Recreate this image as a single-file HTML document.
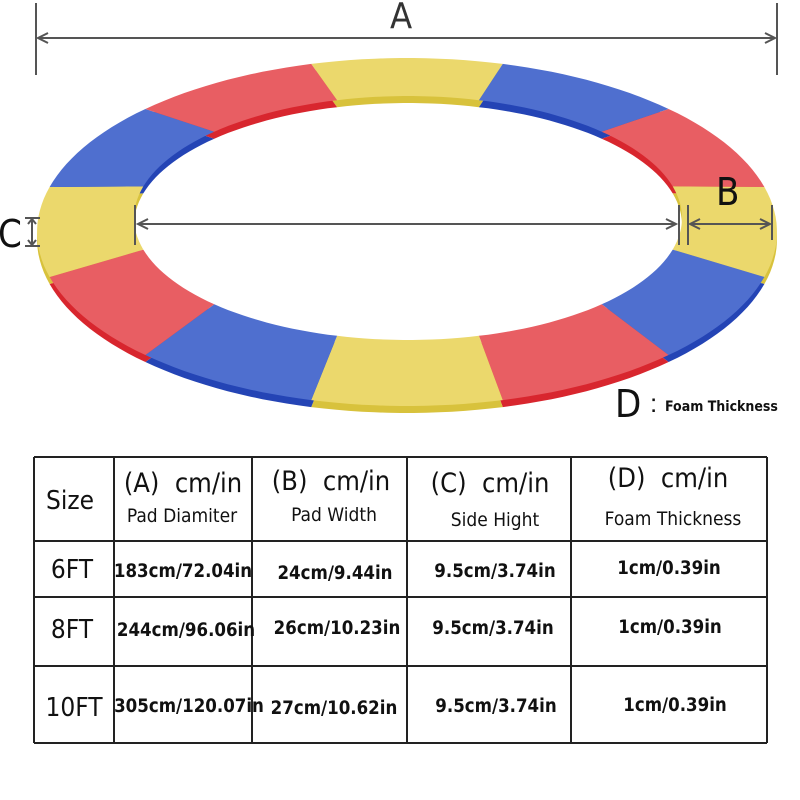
<!DOCTYPE html>
<html><head><meta charset="utf-8"><style>
body{margin:0;width:800px;height:800px;background:#fff;overflow:hidden;position:relative;font-family:"Liberation Sans","DejaVu Sans",sans-serif}
.t{position:absolute;white-space:nowrap;color:#111}
.c{position:absolute;text-align:center;transform:translateX(-50%);white-space:nowrap;color:#111}
.h{font-size:27px;font-family:"DejaVu Sans Condensed","DejaVu Sans",sans-serif;font-weight:300}
.s{font-size:19px;font-family:"DejaVu Sans Condensed","DejaVu Sans",sans-serif}
.d{font-size:18.5px;font-weight:bold;font-family:"DejaVu Sans Condensed","DejaVu Sans",sans-serif}
.z{font-size:26px;font-family:"DejaVu Sans Condensed","DejaVu Sans",sans-serif;font-weight:300}
</style></head><body>
<svg id="sv" width="800" height="800" style="position:absolute;left:0;top:0">
<g id="ring"></g>
<g stroke="#555" stroke-width="2" fill="none">
<line x1="36" y1="3" x2="36" y2="75"/><line x1="777" y1="3" x2="777" y2="75"/>
<line x1="40" y1="38" x2="773" y2="38"/>
<path d="M48,33 L38,38 L48,43 M765,33 L775,38 L765,43"/>
<line x1="135" y1="205" x2="135" y2="245"/><line x1="679" y1="205" x2="679" y2="245"/><line x1="688" y1="205" x2="688" y2="245"/><line x1="772" y1="205" x2="772" y2="240"/>
<line x1="139" y1="224" x2="675" y2="224"/>
<path d="M148,219 L138,224 L148,229 M666,219 L676,224 L666,229"/>
<line x1="692" y1="224" x2="768" y2="224"/>
<path d="M700,219 L690,224 L700,229 M760,219 L770,224 L760,229"/>
<line x1="25" y1="218" x2="40" y2="218"/><line x1="25" y1="246" x2="40" y2="246"/><line x1="32" y1="220" x2="32" y2="244"/>
<path d="M28,224 L32,219 L36,224 M28,240 L32,245 L36,240"/>
</g>
<g stroke="#222" stroke-width="2" fill="none">
<line x1="34" y1="457" x2="767" y2="457"/><line x1="34" y1="541" x2="767" y2="541"/>
<line x1="34" y1="597" x2="767" y2="597"/><line x1="34" y1="666" x2="767" y2="666"/>
<line x1="34" y1="743" x2="767" y2="743"/>
<line x1="34" y1="457" x2="34" y2="743"/><line x1="114" y1="457" x2="114" y2="743"/>
<line x1="252" y1="457" x2="252" y2="743"/><line x1="407" y1="457" x2="407" y2="743"/>
<line x1="571" y1="457" x2="571" y2="743"/><line x1="767" y1="457" x2="767" y2="743"/>
</g>
</svg>
<div class="t" style="left:390px;top:-4px;font-size:36px;font-family:'DejaVu Sans Condensed',sans-serif;font-weight:300;color:#333">A</div>
<div class="t" style="left:716px;top:170px;font-size:38px;font-family:'DejaVu Sans Condensed',sans-serif">B</div>
<div class="t" style="left:-2px;top:212px;font-size:38px;font-family:'DejaVu Sans Condensed',sans-serif;font-weight:300">C</div>
<div class="t" style="left:615px;top:382px;font-size:38px;font-family:'DejaVu Sans Condensed',sans-serif;font-weight:300">D</div>
<div class="t" style="left:650px;top:388px;font-size:26px;">:</div>
<div class="t" style="left:665px;top:399px;font-size:14px;font-weight:bold;font-family:'DejaVu Sans Condensed',sans-serif">Foam Thickness</div>

<div class="c z" style="left:70px;top:486px">Size</div>
<div class="c h" style="left:183px;top:468px">(A)&nbsp; cm/in</div>
<div class="c s" style="left:182px;top:505px">Pad Diamiter</div>
<div class="c h" style="left:331px;top:466px">(B)&nbsp; cm/in</div>
<div class="c s" style="left:334px;top:504px">Pad Width</div>
<div class="c h" style="left:490px;top:468px">(C)&nbsp; cm/in</div>
<div class="c s" style="left:495px;top:509px">Side Hight</div>
<div class="c h" style="left:668px;top:463px">(D)&nbsp; cm/in</div>
<div class="c s" style="left:673px;top:508px">Foam Thickness</div>

<div class="c z" style="left:72px;top:555px">6FT</div>
<div class="c d" style="left:183px;top:561px">183cm/72.04in</div>
<div class="c d" style="left:335px;top:563px">24cm/9.44in</div>
<div class="c d" style="left:495px;top:561px">9.5cm/3.74in</div>
<div class="c d" style="left:669px;top:558px">1cm/0.39in</div>
<div class="c z" style="left:72px;top:615px">8FT</div>
<div class="c d" style="left:186px;top:620px">244cm/96.06in</div>
<div class="c d" style="left:337px;top:618px">26cm/10.23in</div>
<div class="c d" style="left:493px;top:618px">9.5cm/3.74in</div>
<div class="c d" style="left:670px;top:617px">1cm/0.39in</div>
<div class="c z" style="left:74px;top:693px">10FT</div>
<div class="c d" style="left:189px;top:696px">305cm/120.07in</div>
<div class="c d" style="left:334px;top:698px">27cm/10.62in</div>
<div class="c d" style="left:496px;top:696px">9.5cm/3.74in</div>
<div class="c d" style="left:675px;top:695px">1cm/0.39in</div>
<script>
(function(){
var g=document.getElementById('ring');
var O={cx:407,cy:232,rx:370,ry:174},I={cx:408,cy:218,rx:274,ry:122};
var top={yellow:'#ebd86c',red:'#e85e63',blue:'#4f6fcf'},side={yellow:'#d8c23c',red:'#d8262e',blue:'#2444b5'};
var seq=['yellow','blue','red','yellow','blue','red','yellow','blue','red','yellow','blue','red'];
function p(e,t,dy){t=t*Math.PI/180;return (e.cx+e.rx*Math.cos(t)).toFixed(1)+','+(e.cy-e.ry*Math.sin(t)+(dy||0)).toFixed(1);}
function seg(a0,a1,dy){var s='M'+p(O,a0,dy);for(var a=a0;a>=a1;a-=2)s+=' L'+p(O,a,dy);s+=' L'+p(O,a1,dy);
for(var a=a1;a<=a0;a+=2)s+=' L'+p(I,a,dy);s+=' L'+p(I,a0,dy)+'Z';return s;}
var h='';
for(var pass=0;pass<2;pass++){
for(var i=0;i<12;i++){var a0=105-30*i,a1=75-30*i;var c=seq[i];
if(pass==0)h+='<path d="'+seg(a0,a1,7)+'" fill="'+side[c]+'"/>';
else h+='<path d="'+seg(a0,a1,0)+'" fill="'+top[c]+'"/>';}}
g.innerHTML=h;
})();
</script>
</body></html>
